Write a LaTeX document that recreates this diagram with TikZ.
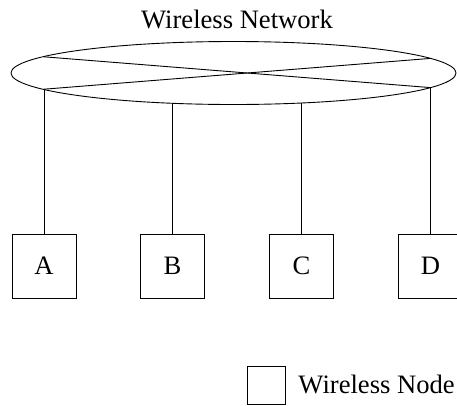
\documentclass[tikz,border=0pt]{standalone}
\usepackage{fontspec}
\setmainfont{Liberation Serif}
\usetikzlibrary{shapes.geometric}
\begin{document}
\begin{tikzpicture}[x=1pt,y=-1pt,
  line width=0.9pt,
  every node/.style={font=\fontsize{26.6}{32}\selectfont},
  nodebox/.style={draw, rectangle, minimum width=64pt, minimum height=64pt, inner sep=0pt},
  legendbox/.style={draw, rectangle, minimum width=38pt, minimum height=38pt, inner sep=0pt},
  cloud/.style={draw, ellipse, minimum width=445pt, minimum height=63pt, inner sep=0pt}]
\useasboundingbox (0,0) rectangle (457,405);

% the network
\node[cloud] (net) at (233.5,73) {};
\node[anchor=base] (title) at (237,28) {Wireless Network};

% points where the links meet the ellipse
\coordinate (aHi) at (44,56.8);
\coordinate (aLo) at (44,89.2);
\coordinate (bLo) at (172.5,103.3);
\coordinate (cLo) at (301.5,103.1);
\coordinate (dHi) at (430.5,58.4);
\coordinate (dLo) at (430.5,87.6);

% crossing lines inside the ellipse
\draw (aHi) -- (dLo);
\draw (aLo) -- (dHi);

% the four wireless nodes
\node[nodebox] (a) at (44,266) {A};
\node[nodebox] (b) at (172.5,266) {B};
\node[nodebox] (c) at (301.5,266) {C};
\node[nodebox] (d) at (430.5,266) {D};

\draw (aLo) -- (a.north);
\draw (bLo) -- (b.north);
\draw (cLo) -- (c.north);
\draw (dLo) -- (d.north);

% legend
\node[legendbox] (key) at (266,385) {};
\node[anchor=base west, inner sep=0pt] (keytext) at (298,393) {Wireless Node};
\end{tikzpicture}
\end{document}
